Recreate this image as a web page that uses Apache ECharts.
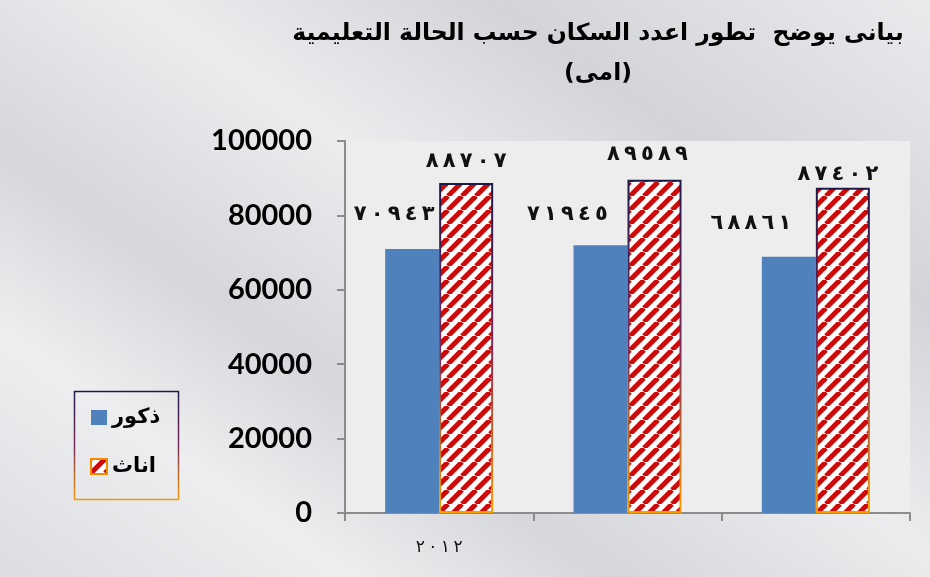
<!DOCTYPE html>
<html>
<head>
<meta charset="utf-8">
<script src="https://cdn.jsdelivr.net/npm/echarts@6/dist/echarts.min.js"></script>
<style>
  html, body { margin: 0; padding: 0; }
  body {
    width: 930px; height: 577px; overflow: hidden;
    background:
      linear-gradient(35deg, rgba(255,255,255,0) 0%, rgba(255,255,255,0.5) 20%, rgba(200,200,205,0.3) 35%, rgba(255,255,255,0.45) 55%, rgba(190,192,198,0.3) 75%, rgba(255,255,255,0.4) 100%),
      #dcdde1;
  }
  #chart { width: 930px; height: 577px; }
</style>
</head>
<body>
<div id="chart"></div>
<script>
// ---- data ----
const categories = ['2012', '', ''];
const males = [70943, 71945, 68861];
const females = [88707, 89589, 87402];
const seriesNames = ['ذكور', 'اناث'];
const titleLine1 = 'بيانى يوضح  تطور اعدد السكان حسب الحالة التعليمية';
const titleLine2 = '(امى)';

// ---- styling helpers ----
const AR_DIGITS = '٠١٢٣٤٥٦٧٨٩';
function toArabic(v) {
  // thin space + LRM between digits keeps left-to-right order
  return String(v).replace(/\d/g, d => AR_DIGITS[d]).split('').join('\u2009\u200E');
}
const maleLabelOffsets = [[-18, -19], [-33, -15], [-38, -18]];
const femaleLabelOffsets = [[0, -6], [-7, -10], [-5, 2]];

function makeHatch() {
  const P = 14;
  const c = document.createElement('canvas');
  c.width = P; c.height = P;
  const g = c.getContext('2d');
  g.fillStyle = '#ffffff';
  g.fillRect(0, 0, P, P);
  g.strokeStyle = '#cc0a0a';
  g.lineWidth = 5;
  for (let k = -1; k <= 1; k++) {
    g.beginPath();
    g.moveTo(k * P, P);
    g.lineTo(k * P + P, 0);
    g.stroke();
  }
  return c;
}
const hatch = makeHatch();

const borderGrad = new echarts.graphic.LinearGradient(0, 0, 0, 1, [
  { offset: 0, color: '#1a1a4a' },
  { offset: 0.5, color: '#7a2a5a' },
  { offset: 1, color: '#f5a000' }
]);

const chart = echarts.init(document.getElementById('chart'), null, { renderer: 'canvas' });

const labelFont = { fontFamily: 'DejaVu Sans', fontWeight: 'bold', fontSize: 21, color: '#111' };

chart.setOption({
  backgroundColor: 'transparent',
  animation: false,
  title: [
    {
      text: titleLine1, left: 593, top: 17, textAlign: 'center',
      textStyle: { fontFamily: 'DejaVu Sans', fontWeight: 'bold', fontSize: 23.5, color: '#000' }
    },
    {
      text: titleLine2, left: 593, top: 57, textAlign: 'center',
      textStyle: { fontFamily: 'DejaVu Sans', fontWeight: 'bold', fontSize: 23.5, color: '#000' }
    }
  ],
  grid: {
    left: 345, right: 20, top: 141, bottom: 64,
    show: true, backgroundColor: '#ededed', borderWidth: 0
  },
  legend: {
    orient: 'vertical', left: 85, top: 402,
    itemWidth: 16, itemHeight: 15, itemGap: 28,
    icon: 'rect',
    textStyle: { fontFamily: 'DejaVu Sans', fontWeight: 'bold', fontSize: 21, color: '#000' },
    data: [
      { name: seriesNames[0], itemStyle: { color: '#4f81bd', borderWidth: 0 } },
      { name: seriesNames[1], itemStyle: { color: { image: hatch, repeat: 'repeat' }, borderColor: '#f08c00', borderWidth: 2 } }
    ]
  },
  graphic: [
    {
      type: 'rect', left: 72, top: 389,
      shape: { width: 104, height: 108 },
      style: { fill: 'none', stroke: borderGrad, lineWidth: 1.5 },
      silent: true
    }
  ],
  xAxis: {
    type: 'category',
    data: categories,
    axisLine: { lineStyle: { color: '#8c8c8c', width: 2 } },
    axisTick: { show: true, length: 8, lineStyle: { color: '#8c8c8c', width: 2 } },
    axisLabel: {
      margin: 26,
      formatter: v => v ? toArabic(v) : '',
      fontFamily: 'DejaVu Sans', fontSize: 17, color: '#111'
    },
    splitLine: { show: false }
  },
  yAxis: {
    type: 'value', min: 0, max: 100000, interval: 20000,
    axisLine: { show: true, lineStyle: { color: '#8c8c8c', width: 2 } },
    axisTick: { show: true, length: 8, lineStyle: { color: '#8c8c8c', width: 2 } },
    axisLabel: {
      margin: 33,
      formatter: v => String(v),
      fontFamily: 'Lato', fontWeight: 'bold', fontSize: 29, color: '#000'
    },
    splitLine: { show: false }
  },
  series: [
    {
      name: seriesNames[0], type: 'bar', barWidth: 54, barGap: '0%',
      itemStyle: { color: '#4f81bd' },
      data: males.map((v, i) => ({
        value: v,
        label: { show: true, position: 'top', offset: maleLabelOffsets[i] }
      })),
      label: Object.assign({ formatter: p => toArabic(p.value) }, labelFont)
    },
    {
      name: seriesNames[1], type: 'bar', barWidth: 54, barGap: '0%',
      itemStyle: {
        color: { image: hatch, repeat: 'repeat' },
        borderColor: borderGrad, borderWidth: 2
      },
      data: females.map((v, i) => ({
        value: v,
        label: { show: true, position: 'top', offset: femaleLabelOffsets[i] }
      })),
      label: Object.assign({ formatter: p => toArabic(p.value) }, labelFont)
    }
  ]
});
</script>
</body>
</html>
